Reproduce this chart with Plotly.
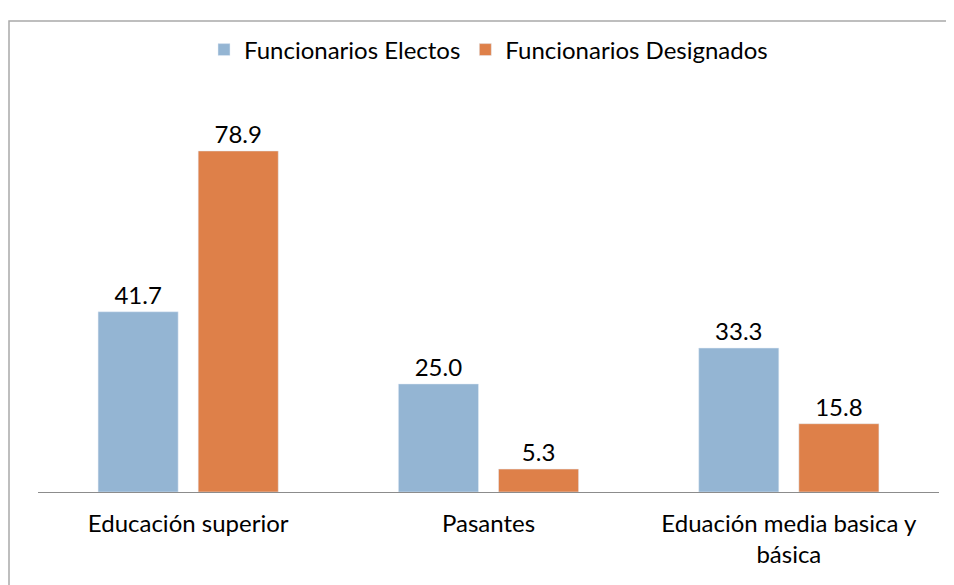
import plotly.graph_objects as go

categories = ["Educación superior", "Pasantes", "Eduación media basica y<br>básica"]
electos = [41.7, 25.0, 33.3]
designados = [78.9, 5.3, 15.8]
series_names = ["Funcionarios Electos", "Funcionarios Designados"]

FONT = "Lato"
FS = 24

fig = go.Figure()
fig.add_trace(go.Bar(
    name=series_names[0], x=categories, y=electos,
    marker_color="#94B5D3", text=[f"{v:.1f}" for v in electos],
    textposition="outside", textfont=dict(size=FS, color="#000000", family=FONT),
    cliponaxis=False,
))
fig.add_trace(go.Bar(
    name=series_names[1], x=categories, y=designados,
    marker_color="#DE8049", text=[f"{v:.1f}" for v in designados],
    textposition="outside", textfont=dict(size=FS, color="#000000", family=FONT),
    cliponaxis=False,
))

L, T, PW, PH = 30, 95, 901, 389
fig.update_layout(
    width=954, height=585,
    margin=dict(l=L, r=954 - L - PW, t=T, b=585 - T - PH),
    paper_bgcolor="white", plot_bgcolor="white",
    barmode="group", bargap=1/3, bargroupgap=0.2,
    font=dict(family=FONT, size=FS, color="#000000"),
    showlegend=True,
    legend=dict(orientation="h", x=0.5, xanchor="center",
                y=(T + PH - 42) / PH, yanchor="middle",
                bgcolor="rgba(0,0,0,0)",
                font=dict(size=FS, family=FONT)),
    xaxis=dict(showline=True, linecolor="#8C8C8C", linewidth=1, ticks="",
               tickfont=dict(size=FS, family=FONT), showgrid=False,
               ticklabelstandoff=10),
    yaxis=dict(range=[0, 90], visible=False, showgrid=False),
    shapes=[dict(type="rect", xref="paper", yref="paper",
                 x0=(1 - L) / PW, x1=1.2, y0=-0.5, y1=(T + PH - 13) / PH,
                 line=dict(color="#A9A9A9", width=1.5), fillcolor="rgba(0,0,0,0)",
                 layer="below")],
)
fig.write_html("out.html")
